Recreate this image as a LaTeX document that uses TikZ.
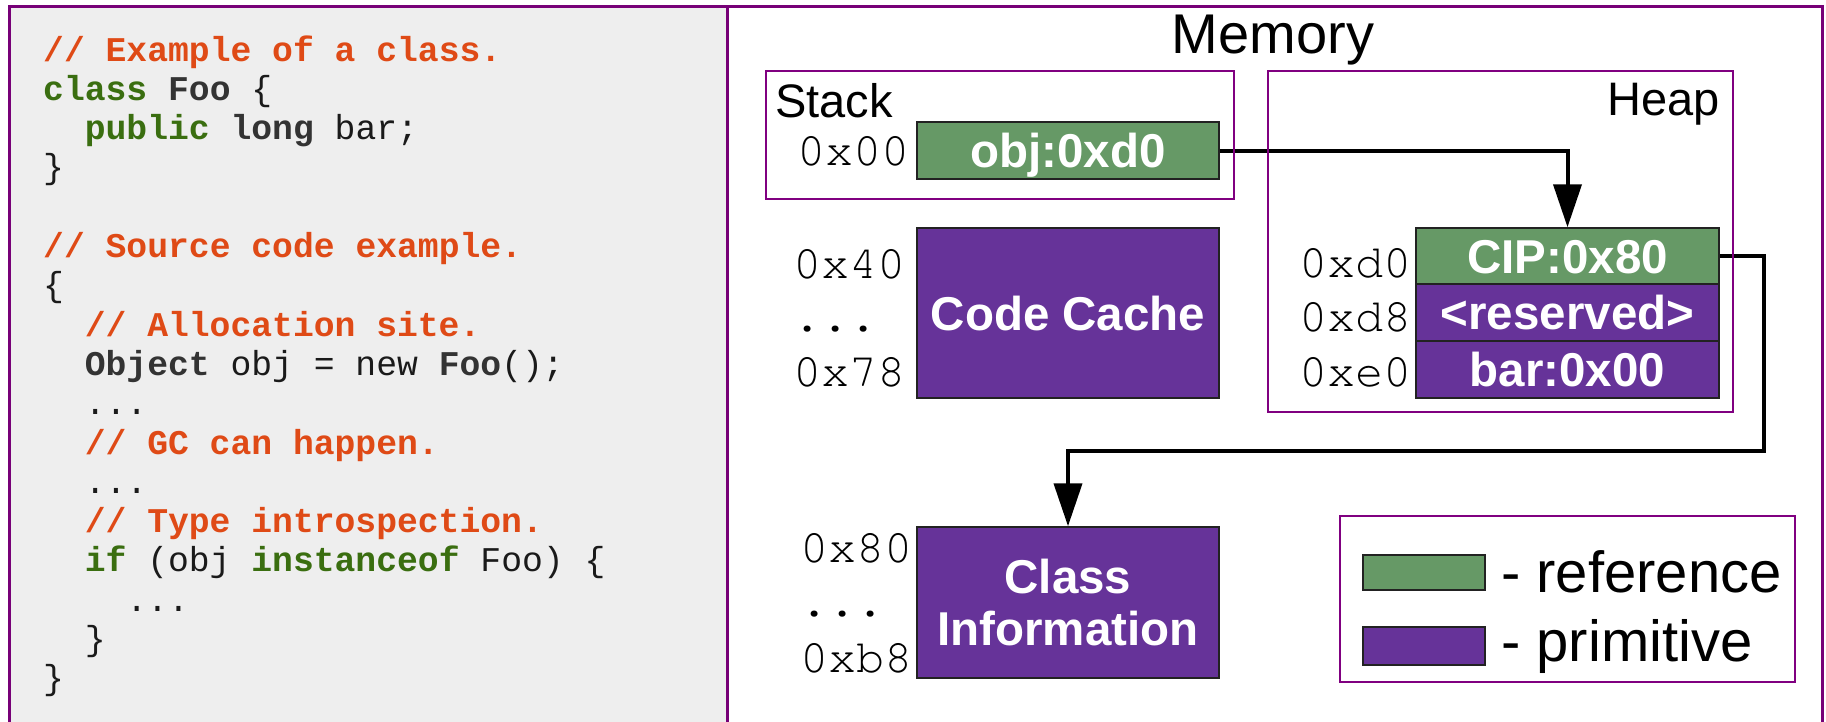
\documentclass[tikz,border=0pt]{standalone}
\usepackage{fontspec}
\setmainfont{Liberation Sans}
\newfontfamily\codefont{Liberation Mono}
\newfontfamily\addrfont{texgyrecursor-regular.otf}
\usetikzlibrary{arrows.meta}
\definecolor{codebg}{HTML}{EEEEEE}
\definecolor{panelc}{HTML}{770077}
\definecolor{subc}{HTML}{800080}
\definecolor{refgreen}{HTML}{669966}
\definecolor{primpurple}{HTML}{663399}
\definecolor{cellborder}{HTML}{222222}
\definecolor{cmtc}{HTML}{DF4A16}
\definecolor{kwc}{HTML}{3A6E10}
\definecolor{tyc}{HTML}{333333}
\definecolor{plainc}{HTML}{1A1A1A}
\newcommand\cmnt[1]{\textcolor{cmtc}{\bfseries #1}}
\newcommand\kwd[1]{\textcolor{kwc}{\bfseries #1}}
\newcommand\typ[1]{\textcolor{tyc}{\bfseries #1}}
\begin{document}
\begin{tikzpicture}[x=1pt,y=-1pt,
  panel/.style={draw=panelc,line width=3pt},
  subbox/.style={draw=subc,line width=1.6pt},
  codeline/.style={anchor=base west,inner sep=0pt,text=plainc,font=\codefont\fontsize{34.7}{39.3}\selectfont},
  addr/.style={anchor=base west,inner sep=0pt,font=\addrfont\fontsize{47}{50}\selectfont},
  cell/.style={draw=cellborder,line width=1.5pt,inner sep=0pt,text=white,
    font=\bfseries\fontsize{47.5}{52}\selectfont,text height=34pt,text depth=0pt,minimum width=302pt},
  refcell/.style={cell,fill=refgreen},
  primcell/.style={cell,fill=primpurple},
  swatch/.style={draw=cellborder,line width=1.5pt,inner sep=0pt,minimum width=122pt},
  conn/.style={line width=4pt,-{Triangle[length=43pt,width=28pt]}},
  title/.style={inner sep=0pt,font=\fontsize{56}{60}\selectfont},
  lbl/.style={inner sep=0pt,font=\fontsize{47}{50}\selectfont},
  legtext/.style={anchor=base west,inner sep=0pt,font=\fontsize{58}{60}\selectfont}]
\useasboundingbox (0,0) rectangle (1826,721);
\begin{scope}
\clip (0,0) rectangle (1826,721);
\draw[panel,fill=codebg] (9,6) rectangle (727,780);
\draw[panel,fill=white] (727,6) rectangle (1822,780);
\end{scope}
% code
\node[codeline] (c1) at (43,61) {\cmnt{// Example of a class.}};
\node[codeline] (c2) at (43,100.3) {\kwd{class} \typ{Foo} \{};
\node[codeline] (c3) at (84.6,139.6) {\kwd{public} \typ{long} bar;};
\node[codeline] (c4) at (43,178.9) {\}};
\node[codeline] (c6) at (43,257.5) {\cmnt{// Source code example.}};
\node[codeline] (c7) at (43,296.8) {\{};
\node[codeline] (c8) at (84.6,336.1) {\cmnt{// Allocation site.}};
\node[codeline] (c9) at (84.6,375.4) {\typ{Object} obj = new \typ{Foo}();};
\node[codeline] (c10) at (84.6,414.7) {...};
\node[codeline] (c11) at (84.6,454) {\cmnt{// GC can happen.}};
\node[codeline] (c12) at (84.6,493.3) {...};
\node[codeline] (c13) at (84.6,532.6) {\cmnt{// Type introspection.}};
\node[codeline] (c14) at (84.6,571.9) {\kwd{if} (obj \kwd{instanceof} Foo) \{};
\node[codeline] (c15) at (126.2,611.2) {...};
\node[codeline] (c16) at (84.6,650.5) {\}};
\node[codeline] (c17) at (43,689.8) {\}};
% memory
\node[title,anchor=base] (mem) at (1273,53) {Memory};
\node[lbl,anchor=base west] (stacklbl) at (775,117) {Stack};
\node[lbl,anchor=base east] (heaplbl) at (1720,115) {Heap};
% cells
\node[refcell,minimum height=57pt] (obj) at (1068,150.5) {obj:0xd0};
\node[primcell,minimum height=170pt] (cc) at (1068,313) {Code Cache};
\node[primcell,minimum height=151pt,align=center,text height=86pt] (info) at (1068,602.5) {Class\\Information};
\node[refcell,minimum width=303pt,minimum height=56pt] (cip) at (1567.5,256) {CIP:0x80};
\node[primcell,minimum width=303pt,minimum height=57pt] (res) at (1567.5,312.5) {<reserved>};
\node[primcell,minimum width=303pt,minimum height=57pt] (bar) at (1567.5,369.5) {bar:0x00};
% addresses
\node[addr] (a00) at (797,165) {0x00};
\node[addr] (a40) at (793,278) {0x40};
\node[addr] (a4d) at (793,331) {...};
\node[addr] (a78) at (793,386) {0x78};
\node[addr] (ad0) at (1299,277) {0xd0};
\node[addr] (ad8) at (1299,331) {0xd8};
\node[addr] (ae0) at (1299,386) {0xe0};
\node[addr] (a80) at (800,562) {0x80};
\node[addr] (a8d) at (800,616) {...};
\node[addr] (ab8) at (800,672) {0xb8};
% connectors
\coordinate (bend) at (1764,451);
\draw[conn] (obj.east) -| (cip.north);
\draw[conn] (cip.east) -| (bend) -| (info.north);
% frames
\draw[subbox] (766,71) rectangle (1234,199);
\draw[subbox] (1268,71) rectangle (1733,412);
\draw[subbox] (1340,516) rectangle (1795,682);
% legend
\node[swatch,fill=refgreen,minimum height=35pt] (sw1) at (1424,572.5) {};
\node[swatch,fill=primpurple,minimum height=38pt] (sw2) at (1424,646) {};
\node[legtext] (lt1) at (1501,592) {- reference};
\node[legtext] (lt2) at (1501,661) {- primitive};
\end{tikzpicture}
\end{document}
